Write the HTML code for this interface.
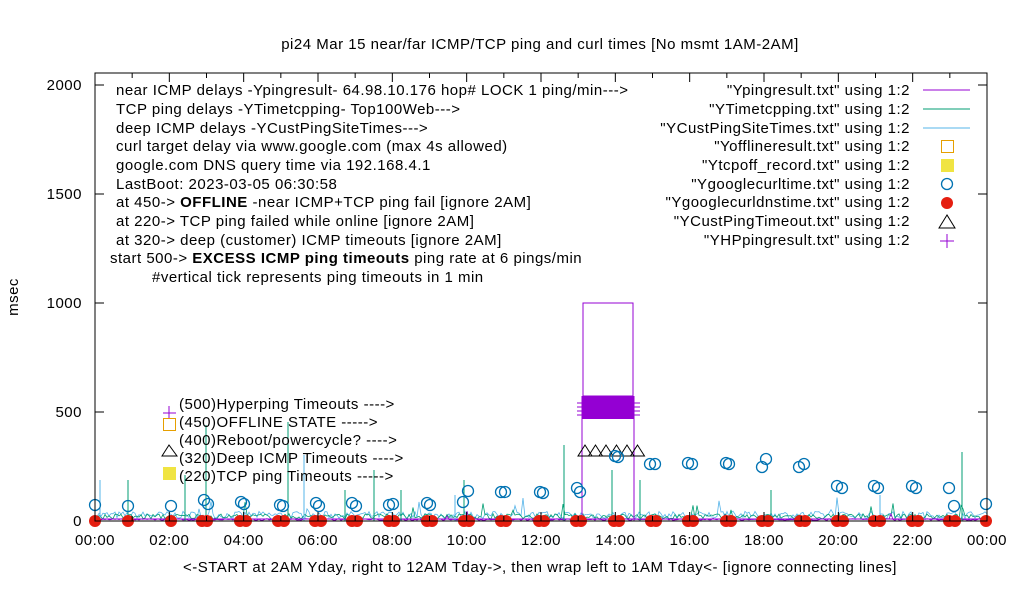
<!DOCTYPE html>
<html><head><meta charset="utf-8"><style>
body{margin:0;background:#fff;}
svg{display:block;font-family:"Liberation Sans",sans-serif;}
text{letter-spacing:0.5px;}
</style></head><body>
<svg id="s" width="1020" height="600" viewBox="0 0 1020 600" xmlns="http://www.w3.org/2000/svg">
<rect width="1020" height="600" fill="#fff"/>
<text x="540" y="49" font-size="15" text-anchor="middle">pi24 Mar 15  near/far ICMP/TCP ping and curl times [No msmt 1AM-2AM]</text>
<g id="noise"></g>
<rect x="583" y="303" width="50" height="93" fill="none" stroke="#9400d3" stroke-width="1"/>
<line x1="582" y1="396" x2="582" y2="521" stroke="#9400d3"/>
<line x1="634" y1="396" x2="634" y2="521" stroke="#9400d3"/>
<rect x="582" y="396" width="52" height="23" fill="#9400d3"/>
<g stroke="#9400d3"><line x1="577" y1="403" x2="640" y2="403"/><line x1="577" y1="407" x2="640" y2="407"/><line x1="577" y1="411" x2="640" y2="411"/><line x1="577" y1="415" x2="640" y2="415"/></g>
<g id="tri" fill="none" stroke="#000"></g>
<line x1="578" y1="456" x2="640" y2="456" stroke="#000"/>
<g id="circ" fill="none" stroke="#0072b2" stroke-width="1.3"></g>
<g id="dots" fill="#e51e10"></g>
<rect x="95" y="73" width="892" height="448" fill="none" stroke="#000"/>
<g id="ticks" stroke="#000"></g>
<g font-size="15" text-anchor="end">
<text x="82" y="90">2000</text><text x="82" y="199">1500</text><text x="82" y="308">1000</text><text x="82" y="417">500</text><text x="82" y="526">0</text>
</g>
<g id="xl" font-size="15" text-anchor="middle"></g>
<text x="18" y="297" font-size="15" text-anchor="middle" transform="rotate(-90 18 297)">msec</text>
<text x="540" y="572" font-size="15" text-anchor="middle">&lt;-START at 2AM Yday, right to 12AM Tday-&gt;, then wrap left to 1AM Tday&lt;- [ignore connecting lines]</text>
<g font-size="15">
<text x="116" y="95">near ICMP delays -Ypingresult- 64.98.10.176 hop# LOCK 1 ping/min---&gt;</text>
<text x="116" y="114">TCP ping delays -YTimetcpping- Top100Web---&gt;</text>
<text x="116" y="133">deep ICMP delays -YCustPingSiteTimes---&gt;</text>
<text x="116" y="151">curl target delay via www.google.com (max 4s allowed)</text>
<text x="116" y="170">google.com DNS query time via 192.168.4.1</text>
<text x="116" y="189">LastBoot: 2023-03-05 06:30:58</text>
<text x="116" y="207">at 450-&gt; <tspan font-weight="bold">OFFLINE</tspan> -near ICMP+TCP ping fail [ignore 2AM]</text>
<text x="116" y="226">at 220-&gt; TCP ping failed while online [ignore 2AM]</text>
<text x="116" y="245">at 320-&gt; deep (customer) ICMP timeouts [ignore 2AM]</text>
<text x="110" y="263">start 500-&gt; <tspan font-weight="bold">EXCESS ICMP ping timeouts</tspan>  ping rate at 6 pings/min</text>
<text x="152" y="282">#vertical tick represents ping timeouts in 1 min</text>
<text x="179" y="409">(500)Hyperping Timeouts ----&gt;</text>
<text x="179" y="427">(450)OFFLINE STATE -----&gt;</text>
<text x="179" y="445">(400)Reboot/powercycle? ----&gt;</text>
<text x="179" y="463">(320)Deep ICMP Timeouts ----&gt;</text>
<text x="179" y="481">(220)TCP ping Timeouts -----&gt;</text>
</g>
<g stroke="#9400d3"><line x1="169" y1="406" x2="169" y2="419"/><line x1="163" y1="413" x2="176" y2="413"/></g>
<rect x="163.5" y="418.5" width="12" height="12" fill="none" stroke="#e69f00"/>
<polygon points="169,445 162,456 177,456" fill="none" stroke="#000"/>
<rect x="163" y="467" width="13" height="13" fill="#f0e442"/>
<g font-size="15" text-anchor="end">
<text x="910" y="95">"Ypingresult.txt" using 1:2</text>
<text x="910" y="114">"YTimetcpping.txt" using 1:2</text>
<text x="910" y="133">"YCustPingSiteTimes.txt" using 1:2</text>
<text x="910" y="151">"Yofflineresult.txt" using 1:2</text>
<text x="910" y="170">"Ytcpoff_record.txt" using 1:2</text>
<text x="910" y="189">"Ygooglecurltime.txt" using 1:2</text>
<text x="910" y="207">"Ygooglecurldnstime.txt" using 1:2</text>
<text x="910" y="226">"YCustPingTimeout.txt" using 1:2</text>
<text x="910" y="245">"YHPpingresult.txt" using 1:2</text>
</g>
<line x1="923" y1="90" x2="970" y2="90" stroke="#9400d3"/>
<line x1="923" y1="109" x2="970" y2="109" stroke="#009e73"/>
<line x1="923" y1="128" x2="970" y2="128" stroke="#56b4e9"/>
<rect x="941.5" y="140.5" width="12" height="12" fill="none" stroke="#e69f00"/>
<rect x="941" y="159" width="13" height="13" fill="#f0e442"/>
<circle cx="947" cy="184" r="5.5" fill="none" stroke="#0072b2" stroke-width="1.3"/>
<circle cx="947" cy="203" r="6" fill="#e51e10"/>
<polygon points="947,215 939,228 955,228" fill="none" stroke="#000"/>
<g stroke="#9400d3"><line x1="947" y1="234" x2="947" y2="248"/><line x1="940" y1="241" x2="954" y2="241"/></g>
</svg>
<script>
var NS="http://www.w3.org/2000/svg";
function el(p,t,a){var e=document.createElementNS(NS,t);for(var k in a)e.setAttribute(k,a[k]);document.getElementById(p).appendChild(e);return e;}
var seed=7;function r(){seed=(seed*16807)%2147483647;return seed/2147483647;}
var cols=[["#56b4e9",8],["#009e73",6],["#9400d3",2]];
cols.forEach(function(c){var d="M95 "+(521-c[1]);for(var x=95;x<=987;x+=2){var h=c[1]*(0.3+r()*0.9);if(r()<0.02)h+=r()*15;d+=" L"+x.toFixed(1)+" "+(521-h).toFixed(1);}el("noise","path",{d:d,fill:"none",stroke:c[0],"stroke-width":0.8});});
el("noise","line",{x1:95,y1:519,x2:987,y2:519,stroke:"#9400d3"});
[[100,480,"#56b4e9"],[128,480,"#009e73"],[185,475,"#009e73"],[206,425,"#009e73"],[288,422,"#009e73"],[304,455,"#56b4e9"],[345,490,"#009e73"],[374,470,"#009e73"],[401,490,"#009e73"],[464,480,"#009e73"],[564,445,"#009e73"],[612,470,"#009e73"],[640,480,"#009e73"],[771,490,"#009e73"],[962,452,"#009e73"],[455,495,"#56b4e9"],[880,495,"#56b4e9"]].forEach(function(s){el("noise","line",{x1:s[0],y1:521,x2:s[0],y2:s[1],stroke:s[2]});});
for(var i=0;i<6;i++){var x=585+i*10.5;el("tri","polygon",{points:x+",445 "+(x-7)+",456 "+(x+7)+",456"});}
[[95,505],[128,506],[171,506],[204,500],[208,504],[241,502],[244,504],[280,505],[283,506],[316,503],[319,506],[352,503],[356,506],[389,505],[393,504],[427,503],[430,505],[463,502],[468,491],[501,492],[505,492],[540,492],[543,493],[577,488],[580,492],[615,456],[618,457],[650,464],[655,464],[688,463],[692,464],[726,463],[729,464],[762,467],[766,459],[799,467],[804,464],[837,486],[842,488],[874,486],[878,488],[912,486],[916,488],[949,488],[954,506],[986,504]].forEach(function(c){el("circ","circle",{cx:c[0],cy:c[1],r:5.5});});
[95,128,171,202,207,240,246,278,284,315,321,352,357,389,394,427,432,464,469,501,506,539,544,576,581,614,619,651,656,688,693,726,731,762,768,800,805,837,843,874,880,912,918,949,955,986].forEach(function(x){el("dots","circle",{cx:x,cy:521,r:6});});
for(var k=0;k<=2000;k+=500){var y=521-k*0.218;el("ticks","line",{x1:95,y1:y,x2:104,y2:y});el("ticks","line",{x1:987,y1:y,x2:978,y2:y});}
var lbl=["00:00","02:00","04:00","06:00","08:00","10:00","12:00","14:00","16:00","18:00","20:00","22:00","00:00"];
for(var h=0;h<=24;h++){var x=95+h*892/24;var L=h%2==0?9:5;el("ticks","line",{x1:x,y1:521,x2:x,y2:521-L});el("ticks","line",{x1:x,y1:73,x2:x,y2:73+L});
if(h%2==0){var t=el("xl","text",{x:x,y:545});t.textContent=lbl[h/2];}}
</script>
</body></html>
